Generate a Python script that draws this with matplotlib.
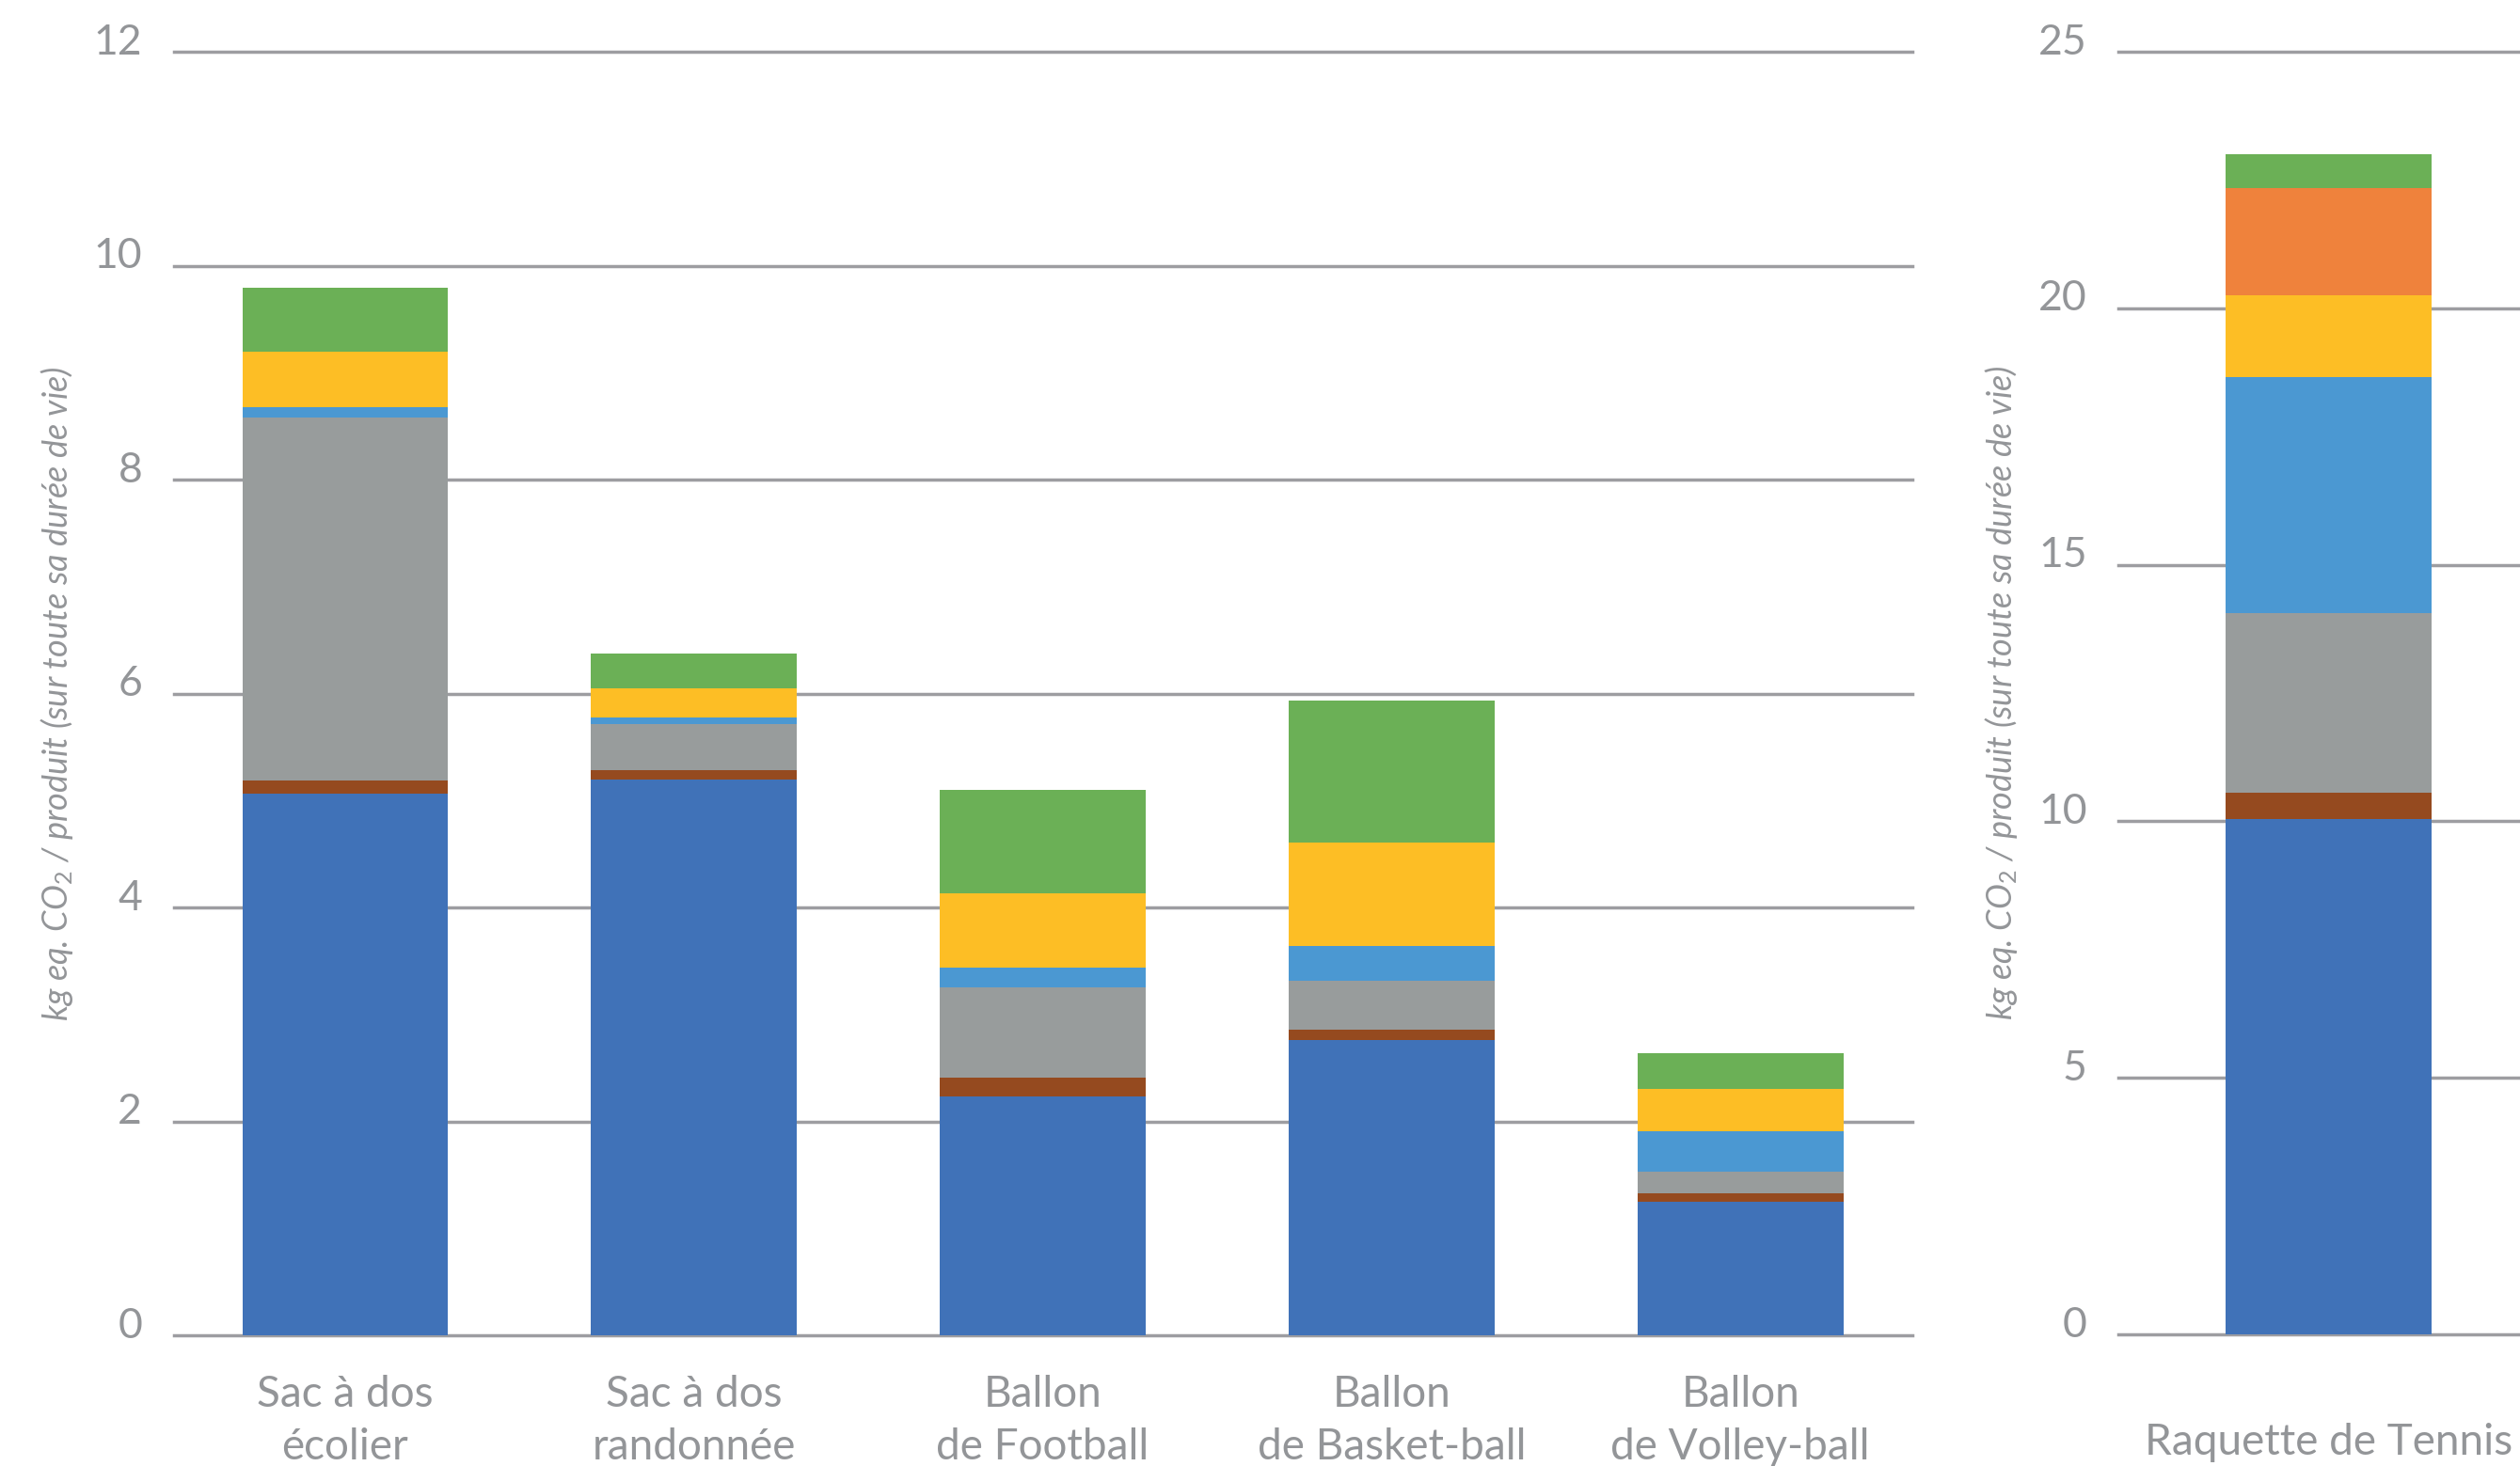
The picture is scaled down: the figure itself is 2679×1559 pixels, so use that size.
import matplotlib
matplotlib.use("Agg")
import matplotlib.pyplot as plt
import matplotlib.transforms as mtransforms
import numpy as np

# Products (left panel) and the tennis racket (right panel, own scale)
categories = ["Sac à dos\nécolier", "Sac à dos\nrandonnée", "Ballon\nde Football",
              "Ballon\nde Basket-ball", "Ballon\nde Volley-ball"]
racket_label = ["Raquette de Tennis"]

# Stacked contributions, kg eq. CO2 per product (bottom to top)
dark_blue   = [5.06, 5.20, 2.23, 2.76, 1.25]
brown       = [0.13, 0.08, 0.18, 0.10, 0.08]
grey        = [3.39, 0.43, 0.84, 0.45, 0.20]
light_blue  = [0.10, 0.07, 0.19, 0.33, 0.38]
yellow      = [0.52, 0.27, 0.69, 0.97, 0.39]
orange      = [0.00, 0.00, 0.00, 0.00, 0.00]
green       = [0.59, 0.32, 0.97, 1.32, 0.34]

racket_dark_blue  = [10.05]
racket_brown      = [0.50]
racket_grey       = [3.50]
racket_light_blue = [4.60]
racket_yellow     = [1.60]
racket_orange     = [2.10]
racket_green      = [0.65]

left_ticks = [0, 2, 4, 6, 8, 10, 12]
right_ticks = [0, 5, 10, 15, 20, 25]

colors = ["#4072b8", "#954a1f", "#989c9c", "#4b98d2", "#fdbe25", "#ef823c", "#6bb056"]
text_grey = "#939598"
grid_grey = "#9d9da1"

FONT = "Lato"
plt.rcParams["font.family"] = [FONT, "DejaVu Sans"]
plt.rcParams["mathtext.fontset"] = "custom"
plt.rcParams["mathtext.rm"] = FONT
plt.rcParams["mathtext.it"] = FONT + ":italic"

W, H = 2679, 1559
fig = plt.figure(figsize=(W / 100, H / 100), dpi=100)

ax1 = fig.add_axes([184.5 / W, 1 - 1420 / H, (2033 - 184.5) / W, (1420 - 55) / H])
ax2 = fig.add_axes([2252 / W, 1 - 1419 / H, (2679 - 2252) / W, (1419 - 55) / H])


def stacked(ax, labels, layers, ticks, xpad):
    x = np.arange(len(labels))
    bottom = np.zeros(len(labels))
    for vals, c in zip(layers, colors):
        vals = np.asarray(vals, dtype=float)
        ax.bar(x, vals, bottom=bottom, width=0.59, color=c, linewidth=0, zorder=3)
        bottom += vals
    ax.set_ylim(ticks[0], ticks[-1])
    ax.set_yticks(ticks)
    ax.set_yticklabels([str(t) for t in ticks])
    ax.set_xticks(x)
    ax.set_xticklabels(labels, fontsize=33, color=text_grey, linespacing=1.42)
    ax.tick_params(axis="y", length=0, pad=24, labelsize=32, labelcolor=text_grey)
    ax.tick_params(axis="x", length=0, pad=xpad)
    # tick numbers sit slightly above their gridline
    lift = mtransforms.ScaledTranslation(0, 10 / 72, fig.dpi_scale_trans)
    for lab in ax.get_yticklabels():
        lab.set_transform(lab.get_transform() + lift)
    for s in ax.spines.values():
        s.set_visible(False)
    ax.set_axisbelow(True)
    ax.yaxis.grid(True, color=grid_grey, linewidth=2.5)
    for gl in ax.get_ygridlines():
        gl.set_clip_on(False)
    ax.set_ylabel("kg eq. CO$_2$ / produit (sur toute sa durée de vie)",
                  fontsize=26, style="italic", color=text_grey, labelpad=14)


stacked(ax1, categories,
        [dark_blue, brown, grey, light_blue, yellow, orange, green], left_ticks, 30)
ax1.set_xlim(-0.492, 4.493)

stacked(ax2, racket_label,
        [racket_dark_blue, racket_brown, racket_grey, racket_light_blue,
         racket_yellow, racket_orange, racket_green], right_ticks, 68)
ax2.set_xlim(-0.603, 0.548)

fig.savefig("out.png", dpi=100, facecolor="white")
